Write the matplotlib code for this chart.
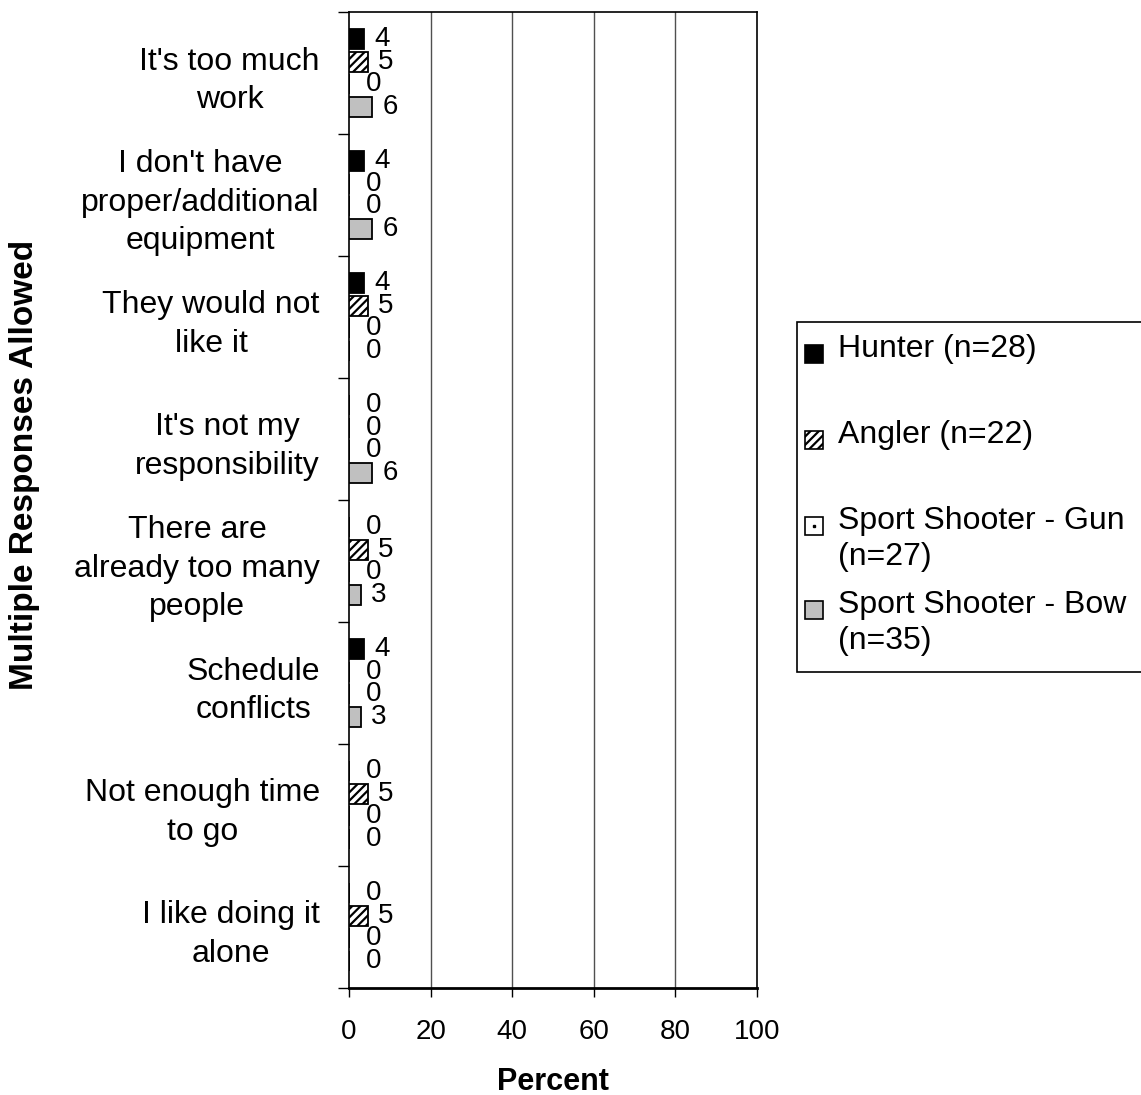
import matplotlib
matplotlib.use("Agg")
import matplotlib.pyplot as plt
from matplotlib.patches import Rectangle
import numpy as np

plt.rcParams['font.family'] = ['Liberation Sans', 'DejaVu Sans']
plt.rcParams['hatch.linewidth'] = 1.6

categories = [
    "It's too much\nwork",
    "I don't have\nproper/additional\nequipment",
    "They would not\nlike it",
    "It's not my\nresponsibility",
    "There are\nalready too many\npeople",
    "Schedule\nconflicts",
    "Not enough time\nto go",
    "I like doing it\nalone",
]
series_names = ["Hunter (n=28)", "Angler (n=22)", "Sport Shooter - Gun\n(n=27)", "Sport Shooter - Bow\n(n=35)"]
hunter = [3.6, 3.6, 3.6, 0, 0, 3.6, 0, 0]
angler = [4.6, 0, 4.6, 0, 4.6, 0, 4.6, 4.6]
gun = [0, 0, 0, 0, 0, 0, 0, 0]
bow = [5.7, 5.7, 0, 5.7, 2.9, 2.9, 0, 0]
x_ticks = [0, 20, 40, 60, 80, 100]

W, H = 1141, 1095
fig = plt.figure(figsize=(W / 100, H / 100), dpi=100)
ax = fig.add_axes([349 / W, 1 - 988 / H, (757 - 349) / W, (988 - 12) / H])

styles = [
    dict(color='black', edgecolor='black'),
    dict(color='white', edgecolor='black', hatch='////'),
    dict(color='white', edgecolor='black'),
    dict(color='#C0C0C0', edgecolor='black'),
]
data = [hunter, angler, gun, bow]
y = np.arange(len(categories))
step = 0.186
offsets = [-1.5 * step, -0.5 * step, 0.5 * step, 1.5 * step]
for vals, st, off in zip(data, styles, offsets):
    bars = ax.barh(y + off, vals, height=0.165, linewidth=1.3, zorder=3, **st)
    for b, v in zip(bars, vals):
        dx = 7.5 if v > 0 else 12.5
        ax.annotate(f"{v:.0f}", (v, b.get_y() + b.get_height() / 2),
                    xytext=(dx, 0), textcoords='offset points',
                    ha='left', va='center', fontsize=20, zorder=4)

ax.set_xlim(0, 100)
ax.set_ylim(len(categories) - 0.5, -0.5)
ax.set_xticks(x_ticks)
ax.set_xticklabels([str(t) for t in x_ticks], fontsize=20)
ax.tick_params(axis='x', direction='out', length=6.5, width=1, pad=16)
for xv in x_ticks[1:-1]:
    ax.axvline(xv, color='#505050', lw=1, zorder=1)

ax.set_yticks(y)
ax.set_yticklabels(categories, fontsize=23)
for t in ax.get_yticklabels():
    t.set_multialignment('center')
    t.set_linespacing(1.36)
ax.set_yticks(np.arange(len(categories) + 1) - 0.5, minor=True)
ax.tick_params(axis='y', which='major', length=0, pad=21)
ax.tick_params(axis='y', which='minor', direction='out', length=8, width=1)

for s in ['left', 'top', 'right']:
    ax.spines[s].set_linewidth(1.2)
ax.spines['bottom'].set_linewidth(2)

fig.text(25 / W, 1 - 465 / H, "Multiple Responses Allowed", rotation=90,
         ha='center', va='center', fontsize=24, fontweight='bold')
fig.text(553 / W, 1 - 1082 / H, "Percent", ha='center', va='center',
         fontsize=22, fontweight='bold')

# legend (manual, fixed-row layout as in the reference)
fig.patches.append(Rectangle((797 / W, 1 - 672 / H), (1150 - 797) / W, (672 - 322) / H,
                             transform=fig.transFigure, facecolor='white',
                             edgecolor='black', lw=1.2, zorder=5))
row_y = [354, 440, 526, 610]
for name, st, ry in zip(series_names, styles, row_y):
    sq = 18
    fig.patches.append(Rectangle((805 / W, 1 - (ry + sq / 2) / H), sq / W, sq / H,
                                 transform=fig.transFigure, facecolor=st['color'],
                                 edgecolor='black', hatch=st.get('hatch'), lw=1.2, zorder=6))
    fig.text(838 / W, 1 - (ry - 20) / H, name, ha='left', va='top', fontsize=23,
             linespacing=1.27, zorder=7)
fig.lines.append(plt.Line2D([814 / W], [1 - 526 / H], marker='s', markersize=1.5,
                            color='black', transform=fig.transFigure, zorder=7))

fig.savefig("out.png", dpi=100)
